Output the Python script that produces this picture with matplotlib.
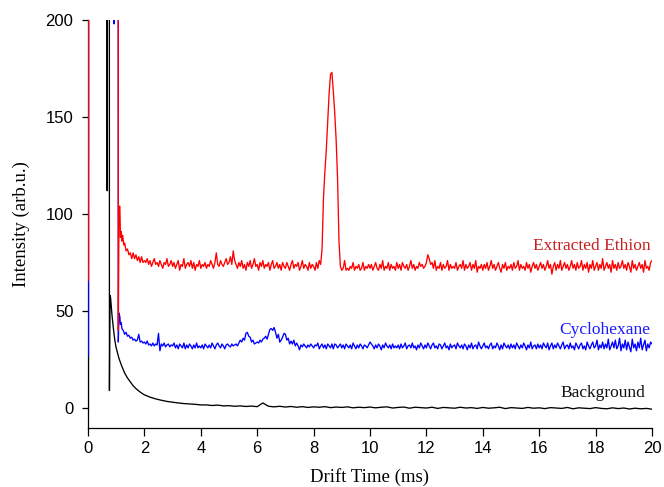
import numpy as np
import matplotlib
matplotlib.use("Agg")
import matplotlib.pyplot as plt

# ---- data ----
# head parts: (time ms, intensity) incl. the off-scale spikes
red_head_t = [0.015, 0.02, 1.07, 1.075, 1.1, 1.13, 1.15, 1.18, 1.2, 1.23, 1.27, 1.3, 1.35,
              1.4, 1.45, 1.5, 1.55, 1.6, 1.65, 1.7, 1.75, 1.8, 1.85, 1.9, 1.95]
red_head_v = [66, 400, 400, 40, 104, 104, 88, 91, 86, 89, 84, 85, 81,
              82, 79, 80, 77, 80, 77, 79, 76, 78, 75, 78, 75]

blue_head_t = [0.015, 0.02, 0.915, 0.925, 0.935, 1.07, 1.075, 1.1, 1.13, 1.15, 1.18, 1.2,
               1.25, 1.3, 1.35, 1.4, 1.45, 1.5, 1.55, 1.6, 1.65, 1.7, 1.75, 1.8, 1.85, 1.9, 1.95]
blue_head_v = [27, 400, 400, 198, 400, 400, 34, 49, 47, 43, 44, 41,
               40, 38, 39, 37, 37.5, 36, 36.5, 35, 35.5, 34.5, 35, 38, 34, 34.5, 33.5]

bg_head_t = [0.015, 0.02, 0.675, 0.68, 0.685, 0.755, 0.76, 0.78, 0.8, 0.85, 0.9, 0.95,
             1.0, 1.1, 1.2, 1.3, 1.4, 1.5, 1.6, 1.7, 1.8, 1.9]
bg_head_v = [-1, 400, 400, 112, 400, 400, 9, 58, 57, 48, 41, 35,
             31, 25.5, 21.5, 18, 15.5, 13.5, 11.5, 10, 8.8, 7.7]

# tails sampled every 0.05 ms from 2.0 ms (red, blue), every 0.2 ms (background)
red_tail = [
    76, 75, 77, 74, 76, 73, 75, 77, 74, 75, 73, 76, 74, 72, 75, 74, 77, 73, 74, 76,
    73, 75, 72, 74, 76, 71, 74, 73, 77, 72, 74, 75, 73, 76, 72, 75, 71, 74, 73, 76,
    72, 74, 73, 75, 72, 74, 73, 76, 74, 72, 75, 80, 74, 73, 76, 74, 73, 75, 77, 74,
    75, 78, 74, 81, 76, 74, 72, 75, 73, 76, 72, 74, 71, 75, 73, 76, 72, 74, 77, 73,
    74, 71, 75, 73, 76, 72, 74, 73, 75, 71, 74, 76, 72, 73, 75, 72, 74, 71, 75, 73,
    72, 75, 73, 71, 74, 76, 72, 74, 73, 75, 71, 73, 76, 72, 74, 73, 71, 75, 72, 74,
    73, 71, 75, 72, 76, 74, 82, 108, 122, 133, 147, 162, 172, 173, 163, 152, 138, 118, 86, 73,
    71, 72, 76, 71, 72, 71, 73, 72, 75, 71, 73, 72, 74, 71, 72, 75, 71, 73, 72, 74,
    72, 74, 71, 73, 75, 72, 71, 74, 72, 76, 71, 73, 72, 75, 71, 74, 72, 73, 71, 75,
    72, 74, 71, 75, 73, 72, 74, 71, 73, 76, 72, 74, 71, 73, 72, 75, 73, 74, 72, 73,
    75, 79, 77, 74, 75, 72, 76, 71, 73, 72, 75, 71, 74, 72, 73, 76, 71, 74, 72, 73,
    72, 75, 71, 73, 74, 72, 76, 71, 74, 72, 73, 75, 71, 74, 72, 76, 70, 73, 72, 74,
    71, 74, 72, 75, 71, 73, 76, 72, 74, 71, 73, 75, 72, 70, 74, 72, 75, 71, 73, 72,
    74, 71, 75, 72, 73, 76, 71, 74, 72, 73, 71, 75, 72, 74, 70, 73, 75, 72, 74, 71,
    73, 75, 72, 74, 71, 73, 76, 72, 74, 69, 73, 75, 71, 74, 72, 76, 71, 73, 75, 72,
    74, 71, 73, 76, 72, 74, 71, 75, 72, 73, 76, 71, 74, 72, 75, 70, 74, 72, 76, 71,
    73, 75, 71, 74, 72, 77, 71, 73, 75, 72, 74, 70, 76, 72, 74, 71, 75, 72, 73, 76,
    72, 74, 71, 75, 73, 70, 76, 72, 74, 71, 73, 75, 72, 74, 70, 76, 72, 73, 71, 75,
    76]

blue_tail = [
    34, 33, 34.5, 32.5, 33, 32, 33.5, 32, 33, 32.5, 38.5, 29.5, 33, 32, 33.5, 31.5, 32.5, 33, 31.5, 32.5,
    32, 33.5, 31, 32.5, 30.5, 33, 32, 31, 33.5, 30.5, 32.5, 31, 33, 32, 30.5, 32.5, 31, 33.5, 31, 32,
    31, 32.5, 30.5, 33, 32, 31, 32.5, 31, 33.5, 32, 30.5, 32.5, 33.5, 32, 31, 33, 32, 30.5, 32.5, 33,
    32, 31.5, 33, 32, 32.5, 33, 32, 33.5, 35, 34, 36, 35, 38.5, 39, 37, 36.5, 34, 35, 33, 33.5,
    34, 33.5, 35, 34, 35.5, 36, 37, 35.5, 38, 40.5, 41, 40, 41.5, 39, 36, 38, 34, 35, 36.5, 38.5,
    38, 35, 36, 33, 34.5, 33, 35, 32, 33.5, 32, 30, 32.5, 31.5, 33, 32, 31, 32.5, 31.5, 33, 32,
    31, 32.5, 32, 33.5, 30.5, 32, 33, 31, 32.5, 30.5, 33, 32, 31, 33, 30.5, 33, 32.5, 31, 32, 33,
    31, 32.5, 30.5, 33, 32, 31, 32.5, 30.5, 33.5, 32, 30.5, 32.5, 31, 33, 32, 30.5, 32.5, 32, 31, 32.5,
    34, 33, 32, 30.5, 32.5, 31, 33, 32, 30, 32.5, 31, 33.5, 32, 31, 32.5, 30.5, 33, 31, 32, 31,
    32.5, 30.5, 33, 31, 32, 33.5, 30.5, 32, 32.5, 31, 33.5, 31, 32, 30, 32.5, 31, 33.5, 32, 30.5, 32.5,
    31, 33.5, 32, 30.5, 32.5, 33.5, 31, 32, 30.5, 33, 32.5, 30.5, 32, 33.5, 31, 32, 30, 33, 31, 32,
    32.5, 30.5, 33.5, 32, 31, 32.5, 30.5, 33, 32, 30, 32.5, 31, 33.5, 30.5, 32, 32.5, 30.5, 34, 32, 30.5,
    32, 33.5, 31, 32, 30.5, 32.5, 33.5, 30.5, 32, 31, 33.5, 32, 30, 32.5, 30.5, 33.5, 32, 31, 32.5, 30.5,
    33, 31, 32.5, 30.5, 33.5, 32, 30.5, 32.5, 31, 33.5, 32, 30, 32.5, 31, 34, 30.5, 32, 32.5, 30.5, 33,
    31, 32.5, 30.5, 33.5, 32, 31, 33.5, 30, 32, 33.5, 30.5, 32.5, 31, 33.5, 32, 30.5, 32.5, 34, 30.5, 32,
    32.5, 30.5, 33.5, 31, 32, 30, 33.5, 32, 30.5, 32.5, 33.5, 30.5, 32, 30, 34, 32, 30.5, 32.5, 34, 31,
    32, 35, 30, 32.5, 31, 34, 30.5, 33, 31, 35.5, 30, 32, 34, 31, 35, 30.5, 32, 36, 29.5, 33,
    31, 35, 30, 34, 31.5, 29, 35.5, 31, 33, 29.5, 34, 31, 36, 30, 32.5, 35, 29.5, 33, 31, 34,
    33]

bg_tail = [
    6.8, 5.6, 4.7, 4.0, 3.4, 3.0, 2.6, 2.3, 2.1, 1.9,
    1.6, 1.6, 1.3, 1.5, 1.1, 1.2, 0.9, 1.1, 0.8, 1.0,
    0.7, 2.6, 0.9, 0.6, 0.9, 0.5, 0.8, 0.4, 0.7, 0.3,
    0.6, 0.4, 0.7, 0.2, 0.5, 0.3, 0.6, 0.1, 0.4, 0.2,
    0.5, 0.1, 0.4, 0.6, 0.0, 0.3, 0.5, -0.1, 0.4, 0.2,
    0.0, 0.4, -0.2, 0.3, 0.1, -0.1, 0.4, 0.0, 0.2, -0.2,
    0.3, -0.1, 0.1, 0.4, -0.3, 0.2, 0.0, -0.2, 0.3, -0.1,
    0.1, -0.3, 0.2, 0.0, -0.2, 0.3, -0.4, 0.1, -0.1, -0.3,
    0.2, -0.2, -0.4, 0.1, -0.3, 0.0, -0.5, -0.1, -0.4, -0.2,
    -0.6]

labels = ["Extracted Ethion", "Cyclohexane", "Background"]
label_y = [83.5, 40, 7.7]

# ---- build series ----
t_red = np.concatenate([red_head_t, np.round(2.0 + 0.05 * np.arange(len(red_tail)), 2)])
v_red = np.concatenate([red_head_v, red_tail])
t_blue = np.concatenate([blue_head_t, np.round(2.0 + 0.05 * np.arange(len(blue_tail)), 2)])
v_blue = np.concatenate([blue_head_v, blue_tail])
t_bg = np.concatenate([bg_head_t, np.round(2.0 + 0.2 * np.arange(len(bg_tail)), 2)])
v_bg = np.concatenate([bg_head_v, bg_tail])

fig = plt.figure(figsize=(6.64, 4.87), dpi=100)
ax = fig.add_axes([88 / 664, 1 - 428 / 487, 564 / 664, 408 / 487])

ax.plot(t_bg, v_bg, color="black", lw=0.95, zorder=3)
ax.plot(t_blue, v_blue, color="#0000ff", lw=0.95, zorder=3)
ax.plot(t_red, v_red, color="#ff0000", lw=0.95, zorder=3)

serif = "Liberation Serif"
ax.text(19.95, label_y[0], labels[0], color="#c81e1e", ha="right", va="center",
        fontsize=12.5, family=serif)
ax.text(19.95, label_y[1], labels[1], color="#1a1aff", ha="right", va="center",
        fontsize=12.5, family=serif)
ax.text(19.75, label_y[2], labels[2], color="#111111", ha="right", va="center",
        fontsize=12.5, family=serif)

ax.set_xlim(0, 20)
ax.set_ylim(-10.3, 200)
ax.set_xticks(range(0, 21, 2))
ax.set_yticks([0, 50, 100, 150, 200])
for s in ["top", "right"]:
    ax.spines[s].set_visible(False)
for s in ["left", "bottom"]:
    ax.spines[s].set_linewidth(0.9)

ax.tick_params(axis="x", direction="out", length=5.5, width=0.9, pad=4,
               labelsize=12, labelfontfamily="Liberation Sans")
ax.tick_params(axis="y", direction="out", length=4.5, width=0.9, pad=6,
               labelsize=12, labelfontfamily="Liberation Sans")

ax.set_xlabel("Drift Time (ms)", fontsize=13.5, family=serif)
ax.set_ylabel("Intensity (arb.u.)", fontsize=13.5, family=serif)
ax.xaxis.set_label_coords(0.5, -0.12)
ax.xaxis.label.set_va("center")
ax.yaxis.set_label_coords(-0.118, 0.5)
ax.yaxis.label.set_va("center")

fig.savefig("out.png", dpi=100)
